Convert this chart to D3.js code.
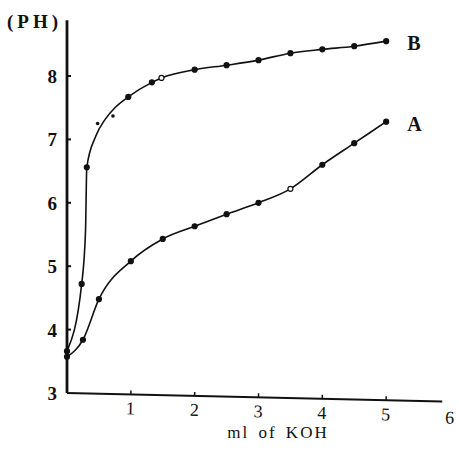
<!DOCTYPE html>
<html>
<head>
<meta charset="utf-8">
<script src="https://cdn.jsdelivr.net/npm/d3@7"></script>
<style>
  body { margin: 0; background: #fff; }
  svg { display: block; }
  text { font-family: "Liberation Serif", "Times New Roman", Times, serif; fill: #111; }
</style>
</head>
<body>
<div id="chart"></div>
<script>
"use strict"

// titration curves, pH vs ml of KOH
const xTicks = [1, 2, 3, 4, 5, 6]
const yTicks = [3, 4, 5, 6, 7, 8]

// curve A (all points marked)
const kohA = [0, 0.25, 0.5, 1, 1.5, 2, 2.5, 3, 3.5, 4, 4.5, 5]
const phA = [3.57, 3.84, 4.48, 5.08, 5.43, 5.63, 5.82, 6.0, 6.22, 6.6, 6.94, 7.28]
const dotA = [true, true, true, true, true, true, true, true, 'open', true, true, true]

// curve B
const kohB = [0, 0.23, 0.29, 0.31, 0.45, 0.6, 0.75, 0.96, 1.33, 1.48, 2, 2.5, 3, 3.5, 4, 4.5, 5]
const phB = [3.66, 4.72, 5.55, 6.56, 7.05, 7.32, 7.5, 7.67, 7.9, 7.97, 8.1, 8.17, 8.25, 8.36, 8.42, 8.47, 8.55]
const dotB = [true, true, false, true, false, false, false, true, true, 'open', true, true, true, true, true, true, true]
// loose marks beside curve B
const strayB = [[0.48, 7.25], [0.72, 7.37]]

const width = 459, height = 453
const svg = d3.select('#chart').append('svg').attr('width', width).attr('height', height)

const x = d3.scaleLinear().domain([0, 6]).range([67, 450])
const y = d3.scaleLinear().domain([3, 8]).range([393, 76])

// y axis
const yAxis = svg.append('g')
yAxis.append('path')
  .attr('d', `M${x(0)},${y(3)}V${y(8.88)}`)
  .attr('stroke', '#111').attr('stroke-width', 2.8).attr('fill', 'none')
yAxis.selectAll('line.tick').data(yTicks.slice(1)).enter().append('line')
  .attr('x1', x(0)).attr('x2', x(0) + 4)
  .attr('y1', d => y(d)).attr('y2', d => y(d))
  .attr('stroke', '#111').attr('stroke-width', 2)
yAxis.selectAll('text').data(yTicks).enter().append('text')
  .attr('x', x(0) - 10).attr('y', d => y(d) + 7)
  .attr('text-anchor', 'end')
  .attr('font-size', 19).attr('font-weight', 'bold')
  .text(d => d)
svg.append('text')
  .attr('x', 7).attr('y', 28)
  .attr('font-size', 19).attr('font-weight', 'bold').attr('letter-spacing', 4)
  .text('(PH)')

// x axis, slightly tilted like the scan
const xAxis = svg.append('g').attr('transform', `rotate(1.3, ${x(0)}, ${y(3)})`)
xAxis.append('path')
  .attr('d', `M${x(0)},${y(3)}H${x(5.88)}`)
  .attr('stroke', '#111').attr('stroke-width', 2.2).attr('fill', 'none')
xAxis.selectAll('line.tick').data(xTicks.slice(0, 5)).enter().append('line')
  .attr('x1', d => x(d)).attr('x2', d => x(d))
  .attr('y1', y(3)).attr('y2', y(3) - 4)
  .attr('stroke', '#111').attr('stroke-width', 1.5)
xAxis.selectAll('text').data(xTicks).enter().append('text')
  .attr('x', d => x(d)).attr('y', d => y(3) + (d === 6 ? 22 : 20))
  .attr('text-anchor', 'middle')
  .attr('font-size', 18)
  .text(d => d)
svg.append('text')
  .attr('x', 278).attr('y', 438)
  .attr('text-anchor', 'middle')
  .attr('font-size', 17).attr('letter-spacing', 2)
  .attr('word-spacing', 3)
  .text('ml of KOH')

// curves
const line = d3.line().x(d => x(d[0])).y(d => y(d[1])).curve(d3.curveMonotoneX)
const series = [
  {name: 'A', pts: d3.zip(kohA, phA, dotA)},
  {name: 'B', pts: d3.zip(kohB, phB, dotB)},
]
for (const s of series) {
  svg.append('path')
    .attr('d', line(s.pts))
    .attr('fill', 'none').attr('stroke', '#111').attr('stroke-width', 1.6)
  svg.selectAll(null).data(s.pts.filter(d => d[2])).enter().append('circle')
    .attr('cx', d => x(d[0])).attr('cy', d => y(d[1]))
    .attr('r', 2.5)
    .attr('fill', d => d[2] === 'open' ? '#fff' : '#111')
    .attr('stroke', '#111').attr('stroke-width', 1.2)
  const last = s.pts[s.pts.length - 1]
  svg.append('text')
    .attr('x', x(last[0]) + 21).attr('y', y(last[1]) + 9)
    .attr('font-size', 20).attr('font-weight', 'bold')
    .text(s.name)
}
svg.selectAll(null).data(strayB).enter().append('circle')
  .attr('cx', d => x(d[0])).attr('cy', d => y(d[1]))
  .attr('r', 1.8).attr('fill', '#111')
</script>
</body>
</html>
